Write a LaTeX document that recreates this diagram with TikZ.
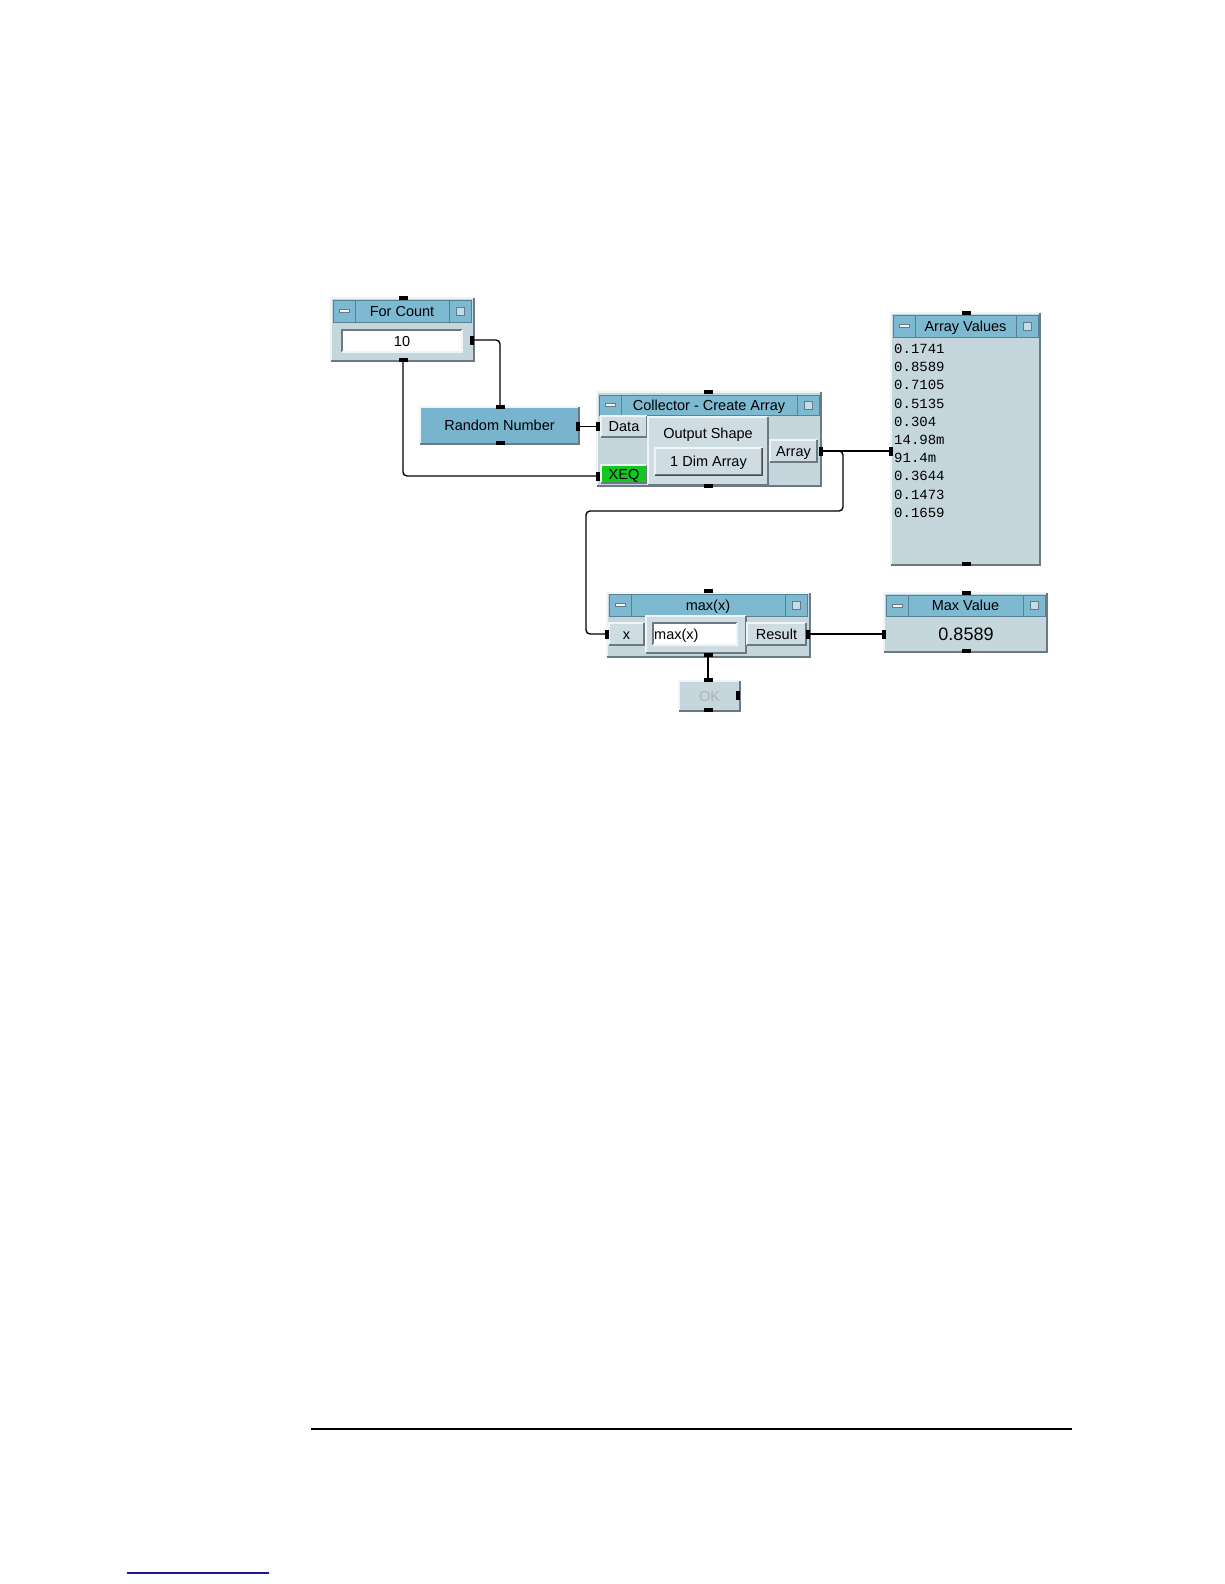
\documentclass[tikz,border=0pt]{standalone}
\usepackage{fontspec}
\setmainfont{Liberation Sans}
\newfontfamily\monofont{Liberation Mono}
\usepackage{tikz}
\usetikzlibrary{calc,fit}
\definecolor{vtitle}{HTML}{7DB9D1}
\definecolor{vrand}{HTML}{78B4CE}
\definecolor{vbody}{HTML}{C6D6DD}
\definecolor{vpanel}{HTML}{CFDCE2}
\definecolor{vgreen}{HTML}{12C81E}
\definecolor{vshadow}{HTML}{6B7A82}
\definecolor{vlight}{HTML}{EEF5F8}
\definecolor{vnavy}{HTML}{1A1A8C}
\newcommand{\Bevel}[1]{%
  \draw[vlight, line width=1.2pt] (#1.south west) -- (#1.north west) -- (#1.north east);
  \draw[vshadow, line width=1.4pt] (#1.south west) -- (#1.south east) -- (#1.north east);
}
\newcommand{\Sunken}[1]{%
  \draw[vshadow, line width=1.4pt] (#1.south west) -- (#1.north west) -- (#1.north east);
  \draw[vlight, line width=1.2pt] (#1.south west) -- (#1.south east) -- (#1.north east);
}
\newcommand{\VeeBox}[6]{% name, x1, y1, x2, y2, fill
  \node[box, fill=#6, fit={(#2,#3) (#4,#5)}] (#1) {};
  \Bevel{#1}
}
\newcommand{\VeeTitle}[6]{% name, x1, y1, x2, y2, title
  \node[titlebar, fit={(#2,#3) (#4,#5)}] (#1) {};
  \node[tbutton, fit={(#2,#3) (#2+22,#5)}] (#1-min) {};
  \node[tbutton, fit={(#4-22,#3) (#4,#5)}] (#1-max) {};
  \node[minusicon] (#1-mi) at (#1-min.center) {};
  \node[sizeicon] (#1-si) at (#1-max.center) {};
  \node[lbl] (#1-txt) at (#1.center) {#6};
}
\newcommand{\Pin}[4]{\node[#2] (#1) at (#3,#4) {};}

\begin{document}
\begin{tikzpicture}[x=1pt,y=-1pt,
  font=\fontsize{14.5}{16}\selectfont,
  box/.style={inner sep=0pt, outer sep=0pt, draw=vshadow!70, line width=0.5pt},
  titlebar/.style={box, fill=vtitle, draw=vtitle!70!black},
  tbutton/.style={box, fill=vtitle, draw=vtitle!70!black},
  minusicon/.style={draw=vshadow, fill=vlight, inner sep=0pt, minimum width=10pt, minimum height=3pt, line width=0.4pt},
  sizeicon/.style={draw=vshadow, fill=vlight!60!vtitle, inner sep=0pt, minimum width=8pt, minimum height=8pt, line width=0.4pt},
  lbl/.style={inner sep=0pt, text height=10.4pt, text depth=0pt},
  monotext/.style={inner sep=0pt, anchor=west, text height=9pt, text depth=0pt, font=\monofont\fontsize{14}{16}\selectfont},
  pinh/.style={fill=black, inner sep=0pt, minimum width=9pt, minimum height=4pt},
  pinv/.style={fill=black, inner sep=0pt, minimum width=4pt, minimum height=9pt},
  wire/.style={draw=black, line width=1.4pt, rounded corners=4pt}]
  \useasboundingbox (0,0) rectangle (1224,1584);

  % For Count
  \VeeBox{fc}{331}{298}{474}{361}{vbody}
  \VeeTitle{fct}{333}{300}{471}{322}{For Count}
  \node[box, fill=white, fit={(342,330) (462,352)}] (fcv) {};
  \Sunken{fcv}
  \node[lbl] (fcv-txt) at (fcv.center) {10};
  \Pin{fc-t}{pinh}{403}{298}
  \Pin{fc-r}{pinv}{472}{340}
  \Pin{fc-b}{pinh}{403}{360}

  % Random Number
  \VeeBox{rn}{420}{407}{579}{444}{vrand}
  \node[lbl] (rn-txt) at (rn.center) {Random Number};
  \Pin{rn-t}{pinh}{500}{407}
  \Pin{rn-b}{pinh}{500}{443}
  \Pin{rn-r}{pinv}{578}{426.5}

  % Collector
  \VeeBox{ca}{597}{392}{821}{486}{vbody}
  \VeeTitle{cat}{599}{395}{819}{415}{Collector - Create Array}
  \VeeBox{cad}{601}{416}{647}{437}{vpanel}
  \node[lbl] (cad-txt) at (cad.center) {Data};
  \VeeBox{cax}{601}{465}{647}{483}{vgreen}
  \node[lbl] (cax-txt) at (cax.center) {XEQ};
  \VeeBox{cap}{648}{417}{768}{485}{vpanel}
  \node[lbl] (cap-txt) at (708,433) {Output Shape};
  \VeeBox{cab}{655}{448}{762}{475}{vpanel}
  \draw[black!70, line width=0.8pt] (cab.south west) -- (cab.south east) -- (cab.north east);
  \node[lbl] (cab-txt) at (cab.center) {1 Dim Array};
  \VeeBox{caa}{770}{440}{817}{462}{vpanel}
  \node[lbl] (caa-txt) at (caa.center) {Array};
  \Pin{ca-t}{pinh}{708}{392}
  \Pin{ca-b}{pinh}{708}{486}
  \Pin{ca-data}{pinv}{598}{426.5}
  \Pin{ca-xeq}{pinv}{598}{476}
  \Pin{ca-arr}{pinv}{821}{451}

  % Array Values
  \VeeBox{av}{891}{313}{1040}{565}{vbody}
  \VeeTitle{avt}{893}{315}{1038}{337}{Array Values}
  \foreach \v [count=\i from 0] in {0.1741,0.8589,0.7105,0.5135,0.304,14.98m,91.4m,0.3644,0.1473,0.1659}
    \node[monotext] (av-\i) at (894,349+18.2*\i) {\v};
  \Pin{av-t}{pinh}{966}{313}
  \Pin{av-b}{pinh}{966}{564}
  \Pin{av-in}{pinv}{891}{451}

  % max(x)
  \VeeBox{mx}{607}{593}{810}{657}{vbody}
  \VeeTitle{mxt}{609}{594}{807}{616}{max(x)}
  \VeeBox{mxx}{609}{623}{644}{645}{vpanel}
  \node[lbl] (mxx-txt) at (mxx.center) {x};
  \VeeBox{mxp}{646}{616}{746}{653}{vpanel}
  \node[box, fill=white, fit={(653,623) (737,645)}] (mxf) {};
  \Sunken{mxf}
  \node[lbl, anchor=west] (mxf-txt) at ($(mxf.west)+(1,0)$) {max(x)};
  \VeeBox{mxr}{747}{623}{806}{645}{vpanel}
  \node[lbl] (mxr-txt) at (mxr.center) {Result};
  \Pin{mx-t}{pinh}{708}{591}
  \Pin{mx-b}{pinh}{708}{655}
  \Pin{mx-x}{pinv}{607}{634}
  \Pin{mx-res}{pinv}{808}{634}

  % Max Value
  \VeeBox{mv}{884}{593}{1047}{652}{vbody}
  \VeeTitle{mvt}{886}{595}{1045}{616}{Max Value}
  \node[lbl, text height=13pt, font=\fontsize{18}{20}\selectfont] (mv-txt) at (966,634) {0.8589};
  \Pin{mv-t}{pinh}{966}{593}
  \Pin{mv-b}{pinh}{966}{651}
  \Pin{mv-in}{pinv}{884}{634}

  % OK
  \VeeBox{ok}{679}{681}{740}{711}{vbody}
  \node[lbl, text=black!30] (ok-txt) at (ok.center) {OK};
  \Pin{ok-t}{pinh}{708}{680}
  \Pin{ok-b}{pinh}{708}{710}
  \Pin{ok-r}{pinv}{738}{695}

  % wires
  \coordinate (bend1) at (843,511);
  \coordinate (bend2) at (586,511);
  \draw[wire] (fc-r) -| (rn-t);
  \draw[wire] (fc-b) |- (ca-xeq);
  \draw[wire] (rn-r) -- (ca-data);
  \draw[wire] (ca-arr) -- (av-in);
  \draw[wire] (ca-arr) -| (bend1) -- (bend2) |- (mx-x);
  \draw[wire] (mx-res) -- (mv-in);
  \draw[wire] (mx-b) -- (ok-t);

  % page rules
  \coordinate (rule-l) at (311,1429);
  \coordinate (rule-r) at (1072,1429);
  \draw[line width=2.6pt] (rule-l) -- (rule-r);
  \coordinate (link-l) at (127,1573);
  \coordinate (link-r) at (269,1573);
  \draw[vnavy, line width=1.6pt] (link-l) -- (link-r);
\end{tikzpicture}
\end{document}
